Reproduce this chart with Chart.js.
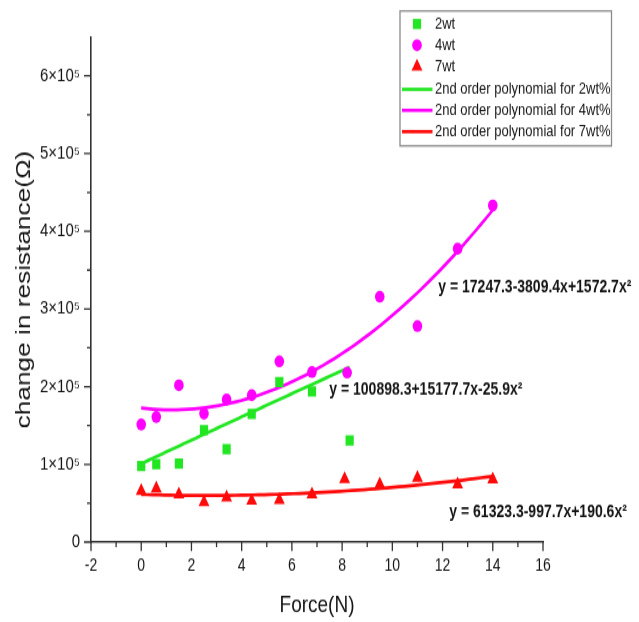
<!DOCTYPE html>
<html>
<head>
<meta charset="utf-8">
<script src="https://cdn.jsdelivr.net/npm/chart.js@4.4.1/dist/chart.umd.min.js"></script>
<style>
  html, body { margin: 0; padding: 0; background: #fff; }
  body { width: 639px; height: 622px; overflow: visible; }
  /* the figure is drawn slightly squashed and stretched back vertically */
  #wrap { position: absolute; left: 0; top: 0; width: 639px; height: 498px; transform: scaleY(1.249); transform-origin: 0 0; }
</style>
</head>
<body>
<div id="wrap"><canvas id="c"></canvas></div>
<script>
// Measured change in resistance (Ω) against applied force (N)
const force2wt = [0, 0.6, 1.5, 2.5, 3.4, 4.4, 5.5, 6.8, 8.3];
const res2wt   = [97700, 100300, 101200, 144000, 119500, 165000, 206000, 194000, 130700];

const force4wt = [0, 0.6, 1.5, 2.5, 3.4, 4.4, 5.5, 6.8, 8.2, 9.5, 11, 12.6, 14];
const res4wt   = [151300, 161000, 201800, 165400, 183400, 189000, 232600, 218900, 218100, 315800, 278000, 377500, 433200];

const force7wt = [0, 0.6, 1.5, 2.5, 3.4, 4.4, 5.5, 6.8, 8.1, 9.5, 11, 12.6, 14];
const res7wt   = [65900, 69000, 61300, 51400, 57500, 53100, 54000, 61300, 81000, 74200, 82600, 74200, 80600];

// 2nd order polynomial fits: [constant, x, x²] and the force range each was fitted over
const fit2wt = [100898.3, 15177.7, -25.9];
const fit4wt = [172473, -3809.4, 1572.7];
const fit7wt = [61323.3, -997.7, 190.6];
const fitRange2wt = [0, 8.3];
const fitRange4wt = [0, 14];
const fitRange7wt = [0, 14];

const eqText2wt = 'y = 100898.3+15177.7x-25.9x\u00B2';
const eqText4wt = 'y = 17247.3-3809.4x+1572.7x\u00B2';
const eqText7wt = 'y = 61323.3-997.7x+190.6x\u00B2';

const seriesNames = ['2wt', '4wt', '7wt'];
const fitNames = ['2nd order polynomial for 2wt%', '2nd order polynomial for 4wt%', '2nd order polynomial for 7wt%'];

const xAxisRange = [-2, 16];
const yAxisRange = [0, 650000];
const yTickValues = [0, 100000, 200000, 300000, 400000, 500000, 600000];
const yTickLabels = ['0', '1\u00D710\u2075', '2\u00D710\u2075', '3\u00D710\u2075', '4\u00D710\u2075', '5\u00D710\u2075', '6\u00D710\u2075'];

const GREEN = '#22e622', MAGENTA = '#ff00ff', RED = '#ff0a0a';
const INK = '#141414';
const FONT = "'Liberation Sans', Arial, sans-serif";

function points(xs, ys) { return xs.map((x, i) => ({ x: x, y: ys[i] })); }
function fitCurve(c, range) {
  const out = [];
  const n = 60;
  for (let i = 0; i <= n; i++) {
    const x = range[0] + (range[1] - range[0]) * i / n;
    out.push({ x: x, y: c[0] + c[1] * x + c[2] * x * x });
  }
  return out;
}

const scatterDs = (label, data, color, style, r) => ({
  label, data, type: 'scatter', showLine: false,
  backgroundColor: color, borderColor: color, borderWidth: 0,
  pointStyle: style, pointRadius: r, pointHoverRadius: r, order: 1
});
const fitDs = (label, data, color) => ({
  label, data, type: 'scatter', showLine: true, fill: false,
  borderColor: color, backgroundColor: color, borderWidth: 2.7,
  pointRadius: 0, tension: 0, order: 2
});

const datasets = [
  scatterDs(seriesNames[0], points(force2wt, res2wt), GREEN, 'rect', 5.8),
  scatterDs(seriesNames[1], points(force4wt, res4wt), MAGENTA, 'circle', 4.8),
  scatterDs(seriesNames[2], points(force7wt, res7wt), RED, 'triangle', 6.3),
  fitDs(fitNames[0], fitCurve(fit2wt, fitRange2wt), GREEN),
  fitDs(fitNames[1], fitCurve(fit4wt, fitRange4wt), MAGENTA),
  fitDs(fitNames[2], fitCurve(fit7wt, fitRange7wt), RED)
];

// fitted equations, anchored in data coordinates (left edge, vertical centre)
const equations = [
  { text: eqText4wt, x: 11.83, y: 328000 },
  { text: eqText2wt, x: 7.49, y: 195400 },
  { text: eqText7wt, x: 12.27, y: 37700 }
];

const decorPlugin = {
  id: 'decor',
  afterDraw(chart) {
    const ctx = chart.ctx;
    const xs = chart.scales.x, ys = chart.scales.y;
    const area = chart.chartArea;
    ctx.save();
    // major and minor tick marks
    ctx.strokeStyle = '#333';
    ctx.lineWidth = 1.3;
    ctx.beginPath();
    for (let v = xAxisRange[0]; v <= xAxisRange[1]; v += 1) {
      const px = xs.getPixelForValue(v);
      const len = (v % 2 === 0) ? 7.2 : 4;
      ctx.moveTo(px, area.bottom); ctx.lineTo(px, area.bottom + len);
    }
    for (let v = yAxisRange[0]; v <= 600000; v += 50000) {
      const py = ys.getPixelForValue(v);
      const len = (v % 100000 === 0) ? 7 : 4;
      ctx.moveTo(area.left, py); ctx.lineTo(area.left - len, py);
    }
    ctx.stroke();

    // equations of the fits
    ctx.fillStyle = INK;
    ctx.font = "bold 14px " + FONT;
    ctx.textBaseline = 'middle';
    ctx.textAlign = 'left';
    equations.forEach(e => {
      ctx.fillText(e.text, xs.getPixelForValue(e.x), ys.getPixelForValue(e.y));
    });

    // legend box
    const bx = 400, by = 8.8, bw = 211.5, bh = 108;
    ctx.strokeStyle = '#8a8a8a';
    ctx.lineWidth = 1.3;
    ctx.strokeRect(bx, by, bw, bh);
    const rowsY = [19.2, 36.2, 53.4, 71.5, 88.3, 105.4];
    ctx.font = "13px " + FONT;
    chart.data.datasets.forEach((ds, i) => {
      const y = rowsY[i];
      if (ds.showLine) {
        ctx.strokeStyle = ds.borderColor;
        ctx.lineWidth = 2.7;
        ctx.beginPath();
        ctx.moveTo(402, y); ctx.lineTo(432.5, y);
        ctx.stroke();
      } else {
        ctx.fillStyle = ds.backgroundColor;
        ctx.strokeStyle = ds.backgroundColor;
        Chart.helpers.drawPoint(ctx, { pointStyle: ds.pointStyle, radius: ds.pointRadius, rotation: 0, borderWidth: 0 }, 417, y);
      }
      ctx.fillStyle = INK;
      ctx.fillText(ds.label, 435, y);
    });
    ctx.restore();
  }
};

new Chart(document.getElementById('c'), {
  data: { datasets },
  options: {
    responsive: true,
    maintainAspectRatio: false,
    animation: false,
    layout: { padding: { left: 0, right: 96, top: 29.6, bottom: 0 } },
    plugins: { legend: { display: false }, tooltip: { enabled: false } },
    scales: {
      x: {
        type: 'linear', position: 'bottom',
        min: xAxisRange[0], max: xAxisRange[1],
        grid: { display: false, drawTicks: false },
        border: { display: true, color: '#333', width: 1.6 },
        ticks: { stepSize: 2, padding: 11, color: INK, font: { family: FONT, size: 14 } },
        title: { display: true, text: 'Force(N)', color: INK, font: { family: FONT, size: 19 }, padding: { top: 0, bottom: 2 } },
        afterFit(s) { s.height = 64; }
      },
      y: {
        type: 'linear', position: 'left',
        min: yAxisRange[0], max: yAxisRange[1],
        grid: { display: false, drawTicks: false },
        border: { display: true, color: '#333', width: 1.6 },
        afterBuildTicks(s) { s.ticks = yTickValues.map(v => ({ value: v })); },
        ticks: {
          padding: 11, color: INK, autoSkip: false,
          font: { family: FONT, size: 15 },
          callback: (v, i) => yTickLabels[yTickValues.indexOf(v)]
        },
        title: { display: true, text: 'change in resistance(\u03A9)', color: INK, font: { family: FONT, size: 21 }, padding: { top: 12, bottom: 12 } },
        afterFit(s) { s.width = 91; }
      }
    }
  },
  plugins: [decorPlugin]
});
</script>
</body>
</html>
